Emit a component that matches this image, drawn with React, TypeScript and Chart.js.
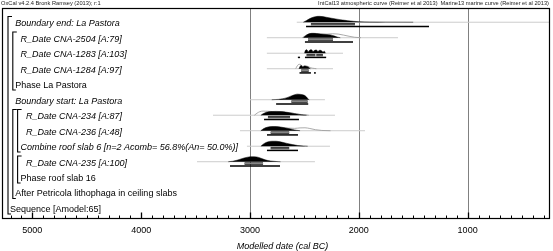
import { useEffect, useRef } from 'react';
import { Chart, registerables } from 'chart.js';

Chart.register(...registerables);

// ---------- DATA ----------
const rowLabels = [
  'Boundary end: La Pastora',
  'R_Date CNA-2504 [A:79]',
  'R_Date CNA-1283 [A:103]',
  'R_Date CNA-1284 [A:97]',
  'Phase La Pastora',
  'Boundary start: La Pastora',
  'R_Date CNA-234 [A:87]',
  'R_Date CNA-236 [A:48]',
  'Combine roof slab 6 [n=2 Acomb= 56.8%(An= 50.0%)]',
  'R_Date CNA-235 [A:100]',
  'Phase roof slab 16',
  'After Petricola lithophaga in ceiling slabs',
  'Sequence [Amodel:65]',
];
const rowKinds = ['Boundary', 'R_Date', 'R_Date', 'R_Date', 'Phase', 'Boundary', 'R_Date', 'R_Date', 'Combine', 'R_Date', 'Phase', 'After', 'Sequence'];
const rowDepth = [1, 2, 2, 2, 1, 1, 3, 3, 2, 3, 2, 1, 0];
// [firstRow, lastRow, depth]
const groups = [[0, 12, 0], [1, 4, 1], [6, 11, 1], [6, 8, 2], [9, 10, 2]];

const majorTicks = [5000, 4000, 3000, 2000, 1000];
const gridYears = [3000, 2000, 1000];
const minorTicks = [5200, 5100, 4900, 4800, 4700, 4600, 4500, 4400, 4300, 4200, 4100, 3900, 3800, 3700, 3600, 3500, 3400, 3300, 3200, 3100, 2900, 2800, 2700, 2600, 2500, 2400, 2300, 2200, 2100, 1900, 1800, 1700, 1600, 1500, 1400, 1300, 1200, 1100, 900, 800, 700, 600, 500, 400, 300];

// posterior (modelled) densities [year BC, relative density]
const postBoundaryEnd = [[2510, 0], [2480, 0.3], [2440, 0.7], [2400, 0.95], [2360, 1], [2300, 0.85], [2250, 0.68], [2200, 0.52], [2150, 0.38], [2100, 0.26], [2050, 0.16], [2000, 0.09], [1900, 0.04], [1750, 0.015], [1500, 0]];
const postCNA2504 = [[2510, 0], [2480, 0.45], [2450, 0.7], [2420, 0.75], [2390, 0.72], [2350, 0.62], [2300, 0.55], [2260, 0.48], [2230, 0.32], [2200, 0.12], [2170, 0]];
const postCNA1283 = [[2500, 0], [2490, 0.5], [2478, 0.6], [2465, 0.25], [2450, 0.55], [2435, 0.6], [2420, 0.3], [2405, 0.5], [2390, 0.55], [2375, 0.3], [2360, 0.5], [2345, 0.45], [2330, 0.2], [2318, 0.35], [2305, 0]];
const postCNA1284 = [[2550, 0], [2538, 0.45], [2528, 0.55], [2515, 0.3], [2500, 0.45], [2485, 0.4], [2465, 0.3], [2452, 0.1], [2444, 0]];
const postBoundaryStart = [[2800, 0], [2740, 0.06], [2700, 0.15], [2660, 0.35], [2620, 0.65], [2590, 0.85], [2565, 0.95], [2530, 0.9], [2500, 0.75], [2480, 0.45], [2465, 0.1], [2455, 0]];
const postCNA234 = [[2900, 0], [2880, 0.25], [2850, 0.5], [2810, 0.62], [2760, 0.65], [2710, 0.62], [2660, 0.5], [2610, 0.35], [2570, 0.2], [2530, 0.08], [2480, 0]];
const postCNA236 = [[2900, 0], [2875, 0.35], [2840, 0.6], [2800, 0.7], [2760, 0.7], [2710, 0.6], [2660, 0.42], [2610, 0.22], [2575, 0.08], [2540, 0]];
const postCombine = [[2900, 0], [2875, 0.4], [2840, 0.72], [2800, 0.85], [2760, 0.85], [2710, 0.7], [2660, 0.48], [2610, 0.28], [2560, 0.12], [2510, 0.04], [2470, 0]];
const postCNA235 = [[3200, 0], [3160, 0.08], [3120, 0.25], [3070, 0.55], [3020, 0.78], [2980, 0.85], [2940, 0.82], [2900, 0.6], [2860, 0.32], [2810, 0.12], [2760, 0.04], [2720, 0]];

// prior (unmodelled) densities
const priorCNA2504 = [[2520, 0], [2490, 0.35], [2460, 0.62], [2430, 0.72], [2390, 0.7], [2340, 0.62], [2290, 0.62], [2240, 0.68], [2190, 0.62], [2140, 0.45], [2090, 0.25], [2040, 0.08], [1980, 0]];
const priorCNA1284 = [[2580, 0], [2565, 0.5], [2550, 0.75], [2535, 0.7], [2515, 0.4], [2495, 0.5], [2470, 0.4], [2440, 0.15], [2410, 0.05], [2390, 0]];
const priorCNA234 = [[2960, 0], [2935, 0.35], [2910, 0.6], [2880, 0.7], [2840, 0.68], [2790, 0.62], [2730, 0.55], [2660, 0.45], [2590, 0.28], [2530, 0.12], [2460, 0]];
const priorCNA236 = [[2900, 0], [2870, 0.35], [2830, 0.6], [2780, 0.62], [2720, 0.55], [2650, 0.45], [2590, 0.4], [2540, 0.48], [2495, 0.5], [2450, 0.38], [2400, 0.18], [2340, 0.05], [2260, 0]];

// thin tail extents [from, to]
const tailExtents = [[2570, 243], [2845, 1640], [2845, 2145], [2845, 2237], null, [3000, 2311], [3340, 2219], [3092, 1943], [3028, 2265], [3487, 2403], null, null, null];
// highest posterior density ranges
const ranges68 = [[[2440, 2035]], [[2467, 2237]], [[2480, 2400], [2390, 2330]], [[2530, 2460]], null, [[2620, 2470]], [[2835, 2632]], [[2810, 2640]], [[2810, 2640]], [[3050, 2880]], null, null, null];
const ranges95 = [[[2485, 1355]], [[2495, 2053]], [[2560, 2540], [2495, 2300]], [[2545, 2440], [2412, 2395]], null, [[2760, 2465]], [[2871, 2550]], [[2844, 2559]], [[2844, 2559]], [[3184, 2724]], null, null, null];

const posteriors = [postBoundaryEnd, postCNA2504, postCNA1283, postCNA1284, null, postBoundaryStart, postCNA234, postCNA236, postCombine, postCNA235, null, null, null];
const priors = [null, priorCNA2504, null, priorCNA1284, null, null, priorCNA234, priorCNA236, null, null, null, null, null];

const topLeftText = 'OxCal v4.2.4 Bronk Ramsey (2013); r:1';
const topRightTexts = ['IntCal13 atmospheric curve (Reimer et al 2013)', 'Marine13 marine curve (Reimer et al 2013)'];
const xTitle = 'Modelled date (cal BC)';

// ---------- CHART ----------
const FONT = '"Liberation Sans", Arial, sans-serif';
const H = 0.38;
const BASE = -0.05;

function buildDatasets() {
  const ds: any[] = [];
  rowLabels.forEach((_, row) => {
    const b = row + BASE;
    const t = tailExtents[row];
    if (t) {
      ds.push({ data: [{ x: t[0], y: b }, { x: t[1], y: b }], borderColor: '#cccccc', borderWidth: 1, fill: false, order: 6 });
    }
    const pr = priors[row];
    if (pr) {
      ds.push({ data: pr.map(([x, d]) => ({ x, y: b - d * H })), borderColor: '#a0a0a0', borderWidth: 0.9, fill: false, cubicInterpolationMode: 'monotone', order: 5 });
    }
    const po = posteriors[row];
    if (po) {
      ds.push({ data: po.map(([x, d]) => ({ x, y: b - d * H })), borderColor: '#000', borderWidth: 0.5, backgroundColor: '#000', fill: { value: b }, cubicInterpolationMode: 'monotone', order: 4 });
    }
    const r95 = ranges95[row];
    if (r95) {
      r95.forEach(([a, c]) => {
        ds.push({ data: [{ x: a, y: b + 0.27 }, { x: c, y: b + 0.27 }], borderColor: '#000', borderWidth: 1.5, fill: false, order: 3 });
      });
    }
    const r68 = ranges68[row];
    if (r68) {
      r68.forEach(([a, c]) => {
        ds.push({ data: [{ x: a, y: b + 0.12 }, { x: c, y: b + 0.12 }], borderColor: '#000', borderWidth: 2.3, fill: false, order: 2 });
        ds.push({ data: [{ x: a, y: b + 0.12 }, { x: c, y: b + 0.12 }], borderColor: '#b8b8b8', borderWidth: 0.8, fill: false, order: 1 });
      });
    }
  });
  return ds;
}

const oxcalPlugin = {
  id: 'oxcalDecor',
  beforeDatasetsDraw(chart: any) {
    const { ctx, chartArea, scales } = chart;
    const xs = scales.x;
    ctx.save();
    ctx.strokeStyle = '#808080';
    ctx.lineWidth = 1;
    gridYears.forEach((yr) => {
      const px = Math.round(xs.getPixelForValue(yr)) + 0.5;
      ctx.beginPath();
      ctx.moveTo(px, chartArea.top);
      ctx.lineTo(px, chartArea.bottom);
      ctx.stroke();
    });
    ctx.restore();
  },
  afterDraw(chart: any) {
    const { ctx, chartArea, scales } = chart;
    const xs = scales.x;
    const ys = scales.y;
    ctx.save();
    // border
    ctx.strokeStyle = '#000';
    ctx.lineWidth = 1.2;
    ctx.strokeRect(chartArea.left + 0.5, chartArea.top + 0.5, chartArea.right - chartArea.left - 1, chartArea.bottom - chartArea.top);
    // ticks
    ctx.lineWidth = 1;
    minorTicks.forEach((yr) => {
      const px = Math.round(xs.getPixelForValue(yr)) + 0.5;
      ctx.beginPath();
      ctx.moveTo(px, chartArea.bottom);
      ctx.lineTo(px, chartArea.bottom - 2.5);
      ctx.stroke();
    });
    ctx.lineWidth = 1.3;
    majorTicks.forEach((yr) => {
      const px = Math.round(xs.getPixelForValue(yr)) + 0.5;
      ctx.beginPath();
      ctx.moveTo(px, chartArea.bottom);
      ctx.lineTo(px, chartArea.bottom - 5.5);
      ctx.stroke();
    });
    // tick labels
    ctx.fillStyle = '#000';
    ctx.font = `9px ${FONT}`;
    ctx.textAlign = 'center';
    ctx.textBaseline = 'middle';
    majorTicks.forEach((yr) => {
      ctx.fillText(String(yr), xs.getPixelForValue(yr), chartArea.bottom + 13);
    });
    // axis title
    ctx.font = `italic 9px ${FONT}`;
    ctx.fillText(xTitle, 282.5, chartArea.bottom + 28);
    // top texts
    ctx.font = `5.7px ${FONT}`;
    ctx.fillStyle = '#222';
    ctx.textAlign = 'left';
    ctx.fillText(topLeftText, 1, 3.5);
    ctx.textAlign = 'right';
    ctx.fillText(topRightTexts[1], chartArea.right - 1, 3.5);
    const w2 = ctx.measureText(topRightTexts[1]).width;
    ctx.fillText(topRightTexts[0], chartArea.right - 1 - w2 - 3, 3.5);
    // row labels
    ctx.fillStyle = '#000';
    ctx.textAlign = 'left';
    rowLabels.forEach((lab, row) => {
      const kind = rowKinds[row];
      const italic = kind === 'Boundary' || kind === 'R_Date' || kind === 'Combine';
      ctx.font = `${italic ? 'italic ' : ''}9px ${FONT}`;
      ctx.fillText(lab, 10 + 5.3 * rowDepth[row], ys.getPixelForValue(row) + 0.5);
    });
    // brackets
    ctx.strokeStyle = '#000';
    ctx.lineWidth = 1.1;
    groups.forEach(([r0, r1, d]) => {
      const x = 8 + 4.8 * d;
      const top = ys.getPixelForValue(r0) - 6.5;
      const bot = ys.getPixelForValue(r1) + 5;
      ctx.beginPath();
      ctx.moveTo(x + 4, top);
      ctx.lineTo(x, top);
      ctx.lineTo(x, bot);
      ctx.lineTo(x + 3, bot);
      ctx.stroke();
    });
    ctx.restore();
  },
};

export default function App() {
  const ref = useRef<HTMLCanvasElement | null>(null);
  useEffect(() => {
    if (!ref.current) return;
    const chart = new Chart(ref.current, {
      type: 'line',
      data: { datasets: buildDatasets() },
      options: {
        animation: false,
        responsive: false,
        parsing: true,
        layout: { padding: { left: 2, top: 8, right: 3, bottom: 33 } },
        plugins: { legend: { display: false }, tooltip: { enabled: false } },
        elements: { point: { radius: 0, hoverRadius: 0 } },
        scales: {
          x: { type: 'linear', min: 243, max: 5279, reverse: true, display: false },
          y: { type: 'linear', min: -0.968, max: 12.58, reverse: true, display: false },
        },
      } as any,
      plugins: [oxcalPlugin],
    });
    return () => chart.destroy();
  }, []);
  return (
    <div style={{ position: 'fixed', left: 0, top: 0, width: 553, height: 251, background: '#fff' }}>
      <canvas ref={ref} width={553} height={251} style={{ display: 'block' }} />
    </div>
  );
}
